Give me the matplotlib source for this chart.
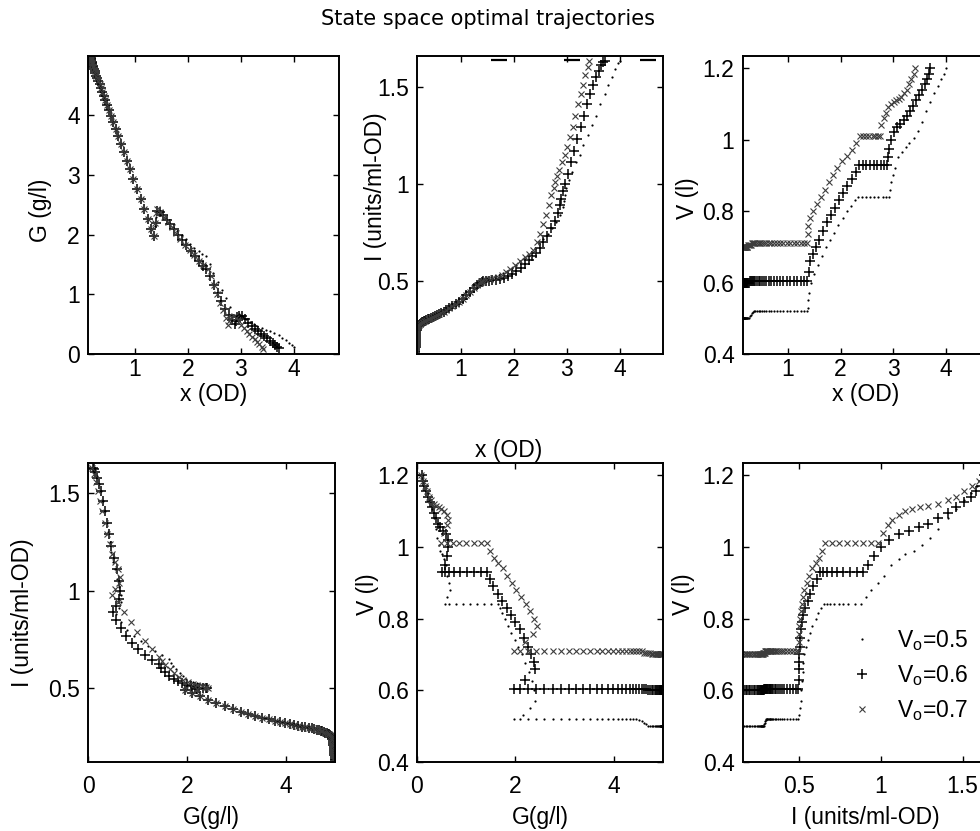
import matplotlib
matplotlib.use("Agg")
import matplotlib.pyplot as plt

plt.rcParams["font.family"] = ["Liberation Sans", "DejaVu Sans"]

# ---- shared batch phase (constant volume) ----
batch_x = [0.150, 0.150, 0.151, 0.151, 0.152, 0.153, 0.154, 0.155, 0.157, 0.159,
           0.161, 0.164, 0.167, 0.171, 0.176, 0.182, 0.189, 0.197, 0.206, 0.216,
           0.228, 0.241, 0.256, 0.272, 0.290, 0.310, 0.332, 0.356, 0.382, 0.410,
           0.441, 0.474, 0.510, 0.549, 0.591, 0.636, 0.684, 0.735, 0.790, 0.848,
           0.909, 0.973, 1.040, 1.108, 1.177, 1.245, 1.308, 1.362]
batch_G = [4.99, 4.99, 4.99, 4.99, 4.98, 4.98, 4.98, 4.97, 4.97, 4.96,
           4.96, 4.95, 4.94, 4.93, 4.91, 4.89, 4.87, 4.85, 4.83, 4.80,
           4.77, 4.74, 4.70, 4.66, 4.62, 4.57, 4.52, 4.46, 4.39, 4.32,
           4.25, 4.17, 4.08, 3.99, 3.88, 3.77, 3.65, 3.52, 3.38, 3.24,
           3.09, 2.93, 2.76, 2.59, 2.42, 2.26, 2.10, 1.97]
batch_I = [0.120, 0.130, 0.140, 0.150, 0.160, 0.170, 0.180, 0.190, 0.200, 0.210,
           0.220, 0.230, 0.240, 0.248, 0.255, 0.260, 0.264, 0.267, 0.270, 0.273,
           0.276, 0.279, 0.282, 0.285, 0.288, 0.291, 0.294, 0.297, 0.300, 0.304,
           0.308, 0.312, 0.317, 0.322, 0.328, 0.334, 0.341, 0.349, 0.358, 0.368,
           0.379, 0.392, 0.407, 0.424, 0.442, 0.460, 0.477, 0.490]
batch_V_05 = [0.50] * 23 + [0.505, 0.51, 0.515, 0.518] + [0.52] * 21
batch_V_06 = [0.600] * 23 + [0.605] * 25
batch_V_07 = [0.700] * 21 + [0.705] * 4 + [0.710] * 23

# ---- fed-batch phase, V0 = 0.5 ----
feed_x_05 = [1.38, 1.39, 1.40, 1.44, 1.50, 1.57, 1.64, 1.72, 1.80, 1.88, 1.96, 2.04, 2.12, 2.20, 2.27, 2.34,
             2.41, 2.48, 2.56, 2.64, 2.72, 2.80, 2.87, 2.93,
             2.94, 2.96, 2.99, 3.04, 3.10, 3.17, 3.24, 3.31, 3.39, 3.47, 3.55, 3.63, 3.71, 3.78, 3.85, 3.91, 3.96, 4.00]
feed_G_05 = [2.15, 2.30, 2.40, 2.38, 2.33, 2.27, 2.20, 2.13, 2.06, 1.99, 1.92, 1.85, 1.78, 1.72, 1.68, 1.64,
             1.50, 1.36, 1.21, 1.07, 0.93, 0.79, 0.66, 0.57,
             0.62, 0.67, 0.66, 0.62, 0.58, 0.54, 0.50, 0.47, 0.44, 0.41, 0.38, 0.35, 0.31, 0.27, 0.23, 0.19, 0.15, 0.12]
feed_I_05 = [0.50, 0.505, 0.51, 0.51, 0.515, 0.52, 0.525, 0.53, 0.54, 0.55, 0.565, 0.58, 0.60, 0.615, 0.63, 0.65,
             0.67, 0.69, 0.715, 0.74, 0.77, 0.80, 0.84, 0.88,
             0.91, 0.94, 0.98, 1.02, 1.06, 1.11, 1.15, 1.20, 1.25, 1.30, 1.35, 1.41, 1.46, 1.51, 1.55, 1.59, 1.62, 1.63]
feed_V_05 = [0.53, 0.55, 0.57, 0.60, 0.625, 0.65, 0.675, 0.70, 0.72, 0.74, 0.76, 0.78, 0.80, 0.815, 0.83, 0.84,
             0.84, 0.84, 0.84, 0.84, 0.84, 0.84, 0.84, 0.84,
             0.86, 0.88, 0.90, 0.92, 0.95, 0.965, 0.98, 0.99, 1.005, 1.025, 1.05, 1.08, 1.105, 1.13, 1.15, 1.17, 1.185, 1.20]

# ---- fed-batch phase, V0 = 0.6 ----
feed_x_06 = [1.40, 1.42, 1.47, 1.53, 1.60, 1.67, 1.74, 1.81, 1.89, 1.97, 2.05, 2.13, 2.21, 2.29, 2.35,
             2.42, 2.49, 2.56, 2.63, 2.70, 2.77, 2.83, 2.88,
             2.90, 2.93, 2.97, 3.02, 3.08, 3.14, 3.20, 3.26, 3.32, 3.38, 3.44, 3.50, 3.55, 3.60, 3.64, 3.68, 3.71]
feed_G_06 = [2.20, 2.40, 2.38, 2.32, 2.25, 2.17, 2.09, 2.00, 1.91, 1.82, 1.73, 1.64, 1.55, 1.48, 1.43,
             1.30, 1.16, 1.02, 0.88, 0.76, 0.66, 0.57, 0.50,
             0.56, 0.62, 0.64, 0.63, 0.58, 0.52, 0.47, 0.42, 0.38, 0.34, 0.30, 0.26, 0.22, 0.18, 0.15, 0.12, 0.10]
feed_I_06 = [0.495, 0.50, 0.50, 0.50, 0.502, 0.505, 0.51, 0.515, 0.525, 0.535, 0.55, 0.565, 0.585, 0.605, 0.625,
             0.645, 0.67, 0.70, 0.73, 0.77, 0.81, 0.85, 0.89,
             0.92, 0.96, 1.00, 1.05, 1.11, 1.17, 1.23, 1.29, 1.35, 1.41, 1.46, 1.51, 1.55, 1.58, 1.61, 1.625, 1.63]
feed_V_06 = [0.63, 0.66, 0.68, 0.70, 0.72, 0.745, 0.77, 0.79, 0.81, 0.83, 0.85, 0.87, 0.89, 0.91, 0.93,
             0.93, 0.93, 0.93, 0.93, 0.93, 0.93, 0.93, 0.93,
             0.95, 0.975, 1.0, 1.02, 1.035, 1.045, 1.055, 1.065, 1.08, 1.095, 1.11, 1.125, 1.14, 1.155, 1.17, 1.185, 1.20]

# ---- fed-batch phase, V0 = 0.7 ----
feed_x_07 = [1.38, 1.39, 1.42, 1.48, 1.55, 1.62, 1.70, 1.78, 1.86, 1.94, 2.03, 2.12, 2.21, 2.29, 2.37,
             2.43, 2.49, 2.55, 2.61, 2.66, 2.71, 2.75,
             2.78, 2.82, 2.86, 2.91, 2.96, 3.01, 3.06, 3.11, 3.16, 3.21, 3.26, 3.31, 3.35, 3.39, 3.42]
feed_G_07 = [2.20, 2.36, 2.43, 2.38, 2.30, 2.21, 2.12, 2.02, 1.93, 1.83, 1.74, 1.65, 1.56, 1.49, 1.43,
             1.30, 1.15, 1.00, 0.86, 0.73, 0.60, 0.48,
             0.55, 0.62, 0.64, 0.60, 0.55, 0.49, 0.44, 0.39, 0.34, 0.29, 0.25, 0.20, 0.16, 0.12, 0.09]
feed_I_07 = [0.495, 0.50, 0.50, 0.505, 0.51, 0.515, 0.52, 0.53, 0.545, 0.56, 0.58, 0.60, 0.62, 0.64, 0.66,
             0.70, 0.74, 0.79, 0.84, 0.89, 0.94, 0.98,
             1.01, 1.04, 1.07, 1.11, 1.15, 1.19, 1.24, 1.29, 1.35, 1.41, 1.46, 1.51, 1.56, 1.60, 1.63]
feed_V_07 = [0.735, 0.757, 0.78, 0.80, 0.82, 0.84, 0.86, 0.88, 0.90, 0.92, 0.94, 0.955, 0.97, 0.99, 1.01,
             1.01, 1.01, 1.01, 1.01, 1.01, 1.01, 1.01,
             1.04, 1.06, 1.075, 1.09, 1.10, 1.105, 1.11, 1.115, 1.12, 1.13, 1.14, 1.155, 1.17, 1.185, 1.20]

# short marks along the top of the x-I panel
dash_x = [1.73, 3.10, 4.53]
dash_I = [1.638, 1.638, 1.638]

legend_labels = [r"$\mathregular{V_o}$=0.5", r"$\mathregular{V_o}$=0.6", r"$\mathregular{V_o}$=0.7"]

trajectories = [
    dict(x=batch_x + feed_x_05, G=batch_G + feed_G_05, I=batch_I + feed_I_05, V=batch_V_05 + feed_V_05,
         style=dict(marker=".", ms=3.2, color="black", mew=0)),
    dict(x=batch_x + feed_x_06, G=batch_G + feed_G_06, I=batch_I + feed_I_06, V=batch_V_06 + feed_V_06,
         style=dict(marker="+", ms=6.8, color="black", mew=1.1)),
    dict(x=batch_x + feed_x_07, G=batch_G + feed_G_07, I=batch_I + feed_I_07, V=batch_V_07 + feed_V_07,
         style=dict(marker="x", ms=4.2, color="#3c3c3c", mew=0.8)),
]

FS = 16.5
fig = plt.figure(figsize=(9.8, 8.31), dpi=100)


def make_axes(left, bottom, width, height):
    ax = fig.add_axes([left, bottom, width, height])
    for sp in ax.spines.values():
        sp.set_linewidth(1.4)
    ax.tick_params(direction="in", top=True, right=True, length=4.5, width=1.0,
                   labelsize=FS)
    return ax


top_b, top_h = 0.574, 0.3586
bot_b, bot_h = 0.083, 0.3598
col_l = [0.0898, 0.4255, 0.7579]
col_w = [0.2561, 0.2510, 0.2510]

ax1 = make_axes(col_l[0], top_b, col_w[0], top_h)
ax2 = make_axes(col_l[1], top_b, col_w[1], top_h)
ax3 = make_axes(col_l[2], top_b, col_w[2], top_h)
ax4 = make_axes(col_l[0], bot_b, 0.2524, bot_h)
ax5 = make_axes(col_l[1], bot_b, col_w[1], bot_h)
ax6 = make_axes(col_l[2], bot_b, col_w[2], bot_h)

pairs = [(ax1, "x", "G"), (ax2, "x", "I"), (ax3, "x", "V"),
         (ax4, "G", "I"), (ax5, "G", "V"), (ax6, "I", "V")]
for ax, kx, ky in pairs:
    for tr, lab in zip(trajectories, legend_labels):
        ax.plot(tr[kx], tr[ky], linestyle="none", label=lab, **tr["style"])

ax2.plot(dash_x, dash_I, linestyle="none", marker="_", ms=11, mew=1.6, color="black")

x_ticks = [1, 2, 3, 4]
v_ticks = [0.4, 0.6, 0.8, 1.0, 1.2]
v_labels = ["0.4", "0.6", "0.8", "1", "1.2"]
i_ticks = [0.5, 1.0, 1.5]
i_labels = ["0.5", "1", "1.5"]
g_ticks = [0, 2, 4]

# top row
ax1.set_xlim(0.115, 4.85); ax1.set_ylim(0, 4.99)
ax1.set_xticks(x_ticks); ax1.set_xticklabels(["1", "2", "3", "4"])
ax1.set_yticks([0, 1, 2, 3, 4]); ax1.set_yticklabels(["0", "1", "2", "3", "4"])
ax2.set_xlim(0.18, 4.81); ax2.set_ylim(0.122, 1.658)
ax2.set_xticks(x_ticks); ax2.set_xticklabels(["1", "2", "3", "4"])
ax2.set_yticks(i_ticks); ax2.set_yticklabels(i_labels)
ax3.set_xlim(0.14, 4.82); ax3.set_ylim(0.4, 1.234)
ax3.set_xticks(x_ticks); ax3.set_xticklabels(["1", "2", "3", "4"])
ax3.set_yticks(v_ticks); ax3.set_yticklabels(v_labels)

# bottom row
ax4.set_xlim(0, 5.0); ax4.set_ylim(0.122, 1.655)
ax4.set_xticks(g_ticks); ax4.set_xticklabels(["0", "2", "4"])
ax4.set_yticks(i_ticks); ax4.set_yticklabels(i_labels)
ax5.set_xlim(0, 5.0); ax5.set_ylim(0.4, 1.234)
ax5.set_xticks(g_ticks); ax5.set_xticklabels(["0", "2", "4"])
ax5.set_yticks(v_ticks); ax5.set_yticklabels(v_labels)
ax6.set_xlim(0.153, 1.66); ax6.set_ylim(0.4, 1.234)
ax6.set_xticks(i_ticks); ax6.set_xticklabels(i_labels)
ax6.set_yticks(v_ticks); ax6.set_yticklabels(v_labels)

for ax in (ax1, ax2, ax3):
    ax.tick_params(axis="x", pad=3)
    ax.tick_params(axis="y", pad=6)
for ax in (ax4, ax5, ax6):
    ax.tick_params(axis="x", pad=9)
    ax.tick_params(axis="y", pad=6)

ax1.set_xlabel("x (OD)", fontsize=FS)
ax3.set_xlabel("x (OD)", fontsize=FS)
ax4.set_xlabel("G(g/l)", fontsize=FS)
ax5.set_xlabel("G(g/l)", fontsize=FS)
ax6.set_xlabel("I (units/ml-OD)", fontsize=FS)
for ax in (ax1, ax3):
    ax.xaxis.set_label_coords(0.5, -0.098)
for ax in (ax4, ax5, ax6):
    ax.xaxis.set_label_coords(0.5, -0.147)

ax1.set_ylabel("G (g/l)", fontsize=FS)
ax2.set_ylabel("I (units/ml-OD)", fontsize=FS)
ax3.set_ylabel("V (l)", fontsize=FS)
ax4.set_ylabel("I (units/ml-OD)", fontsize=FS)
ax5.set_ylabel("V (l)", fontsize=FS)
ax6.set_ylabel("V (l)", fontsize=FS)
ax1.yaxis.set_label_coords(-0.143, 0.483)
ax2.yaxis.set_label_coords(-0.122, 0.56)
ax3.yaxis.set_label_coords(-0.179, 0.522)
ax4.yaxis.set_label_coords(-0.219, 0.5)
ax5.yaxis.set_label_coords(-0.154, 0.56)
ax6.yaxis.set_label_coords(-0.195, 0.56)

# x-axis caption of the x-I panel sits above the lower middle panel
fig.text(509 / 980, 1 - 451 / 831, "x (OD)", fontsize=FS, ha="center", va="center")

fig.text(488 / 980, 1 - 19 / 831, "State space optimal trajectories",
         fontsize=15, family="DejaVu Sans", ha="center", va="center")

ax6.legend(loc="upper left", bbox_to_anchor=(851 / 980, 1 - 628 / 831),
           bbox_transform=fig.transFigure, frameon=False, fontsize=FS,
           numpoints=1, handlelength=1.0, handletextpad=1.0, labelspacing=0.45,
           borderpad=0, borderaxespad=0)

fig.savefig("out.png", dpi=100)
